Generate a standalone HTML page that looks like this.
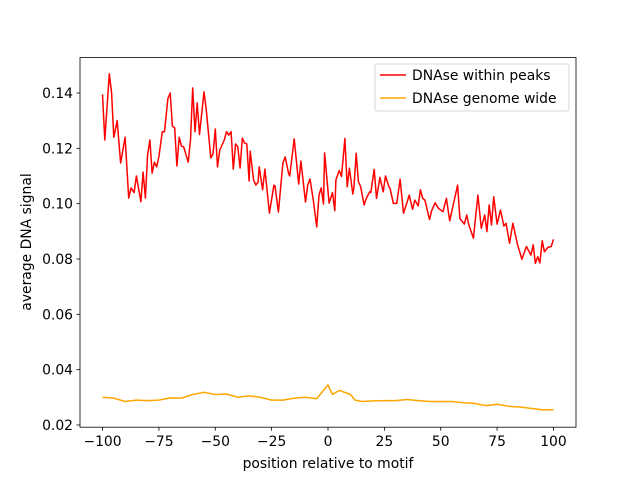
<!DOCTYPE html>
<html><head><meta charset="utf-8"><style>
body{margin:0;background:#fff;}
svg{display:block;font-family:"DejaVu Sans","Liberation Sans",sans-serif;}
</style></head><body>
<svg id="chart" width="640" height="480" viewBox="0 0 640 480">
<rect width="640" height="480" fill="#fff"/>
<g id="plot"></g>
<rect x="80" y="57.6" width="496" height="369.6" fill="none" stroke="#000" stroke-width="0.8"/>
<g id="xticks"></g><g id="yticks"></g>
<text x="328" y="468" font-size="13.9" text-anchor="middle">position relative to motif</text>
<text transform="translate(31,242) rotate(-90)" font-size="13.9" text-anchor="middle">average DNA signal</text>
<g>
<rect x="375" y="64" width="194" height="47" rx="2" fill="#fff" fill-opacity="0.8" stroke="#ccc" stroke-width="0.8"/>
<g>
<line x1="380" y1="75" x2="406" y2="75" stroke="red" stroke-width="1.5"/>
<text x="412" y="80" font-size="13.9">DNAse within peaks</text></g>
<g>
<line x1="380" y1="98" x2="406" y2="98" stroke="orange" stroke-width="1.5"/>
<text x="412" y="103" font-size="13.9">DNAse genome wide</text></g>
</g>
</svg>
<script>
const peaksX=[-100,-99,-97,-96,-95,-93.5,-92,-90,-88.4,-87.4,-86,-85,-83,-82,-81,-80,-79,-78,-77,-76,-75,-73.5,-72.5,-71,-70,-69,-68,-67,-66,-65,-64,-62,-61,-60,-59,-58,-57,-55,-54,-52,-51,-50,-49,-48,-46,-45,-44,-43,-42,-41,-40,-39,-38,-37,-36,-35,-34.5,-33,-32,-31,-30.5,-29,-28,-26,-24,-23.5,-22,-20,-19,-17.5,-17,-15,-13,-12,-10,-9,-8,-6.5,-5,-4,-3,-2,-1.5,0.5,2,3,3.5,5,6,7.5,8.5,9.5,11,11.5,12.5,13.5,14.5,16,17,18.5,19,20.5,21.5,23,24.5,25.5,27,27.5,29,30.5,32,33.5,35,36,37.5,38.5,40,41,42,43,45,46,47.5,49,51,52.5,54,57.5,58.5,60.5,61.5,62.5,64.5,66.5,68,69.5,70.5,71.5,72.5,73.5,75,76.5,78,79,80.5,82,84,86,88,90,91,92,93,94,95,96,97.5,99,100];
const peaksY=[0.1395,0.123,0.1469,0.140,0.124,0.130,0.1147,0.124,0.102,0.1057,0.104,0.110,0.1007,0.1114,0.102,0.1176,0.123,0.111,0.115,0.1133,0.117,0.126,0.126,0.138,0.140,0.128,0.1274,0.1136,0.124,0.1208,0.1205,0.115,0.123,0.1418,0.126,0.1364,0.125,0.1404,0.1339,0.1165,0.118,0.127,0.1133,0.1194,0.123,0.126,0.1248,0.126,0.1125,0.1216,0.1205,0.1129,0.1237,0.1219,0.1216,0.1082,0.119,0.1085,0.1067,0.1078,0.1133,0.105,0.1125,0.0966,0.1067,0.1064,0.097,0.1147,0.1169,0.111,0.110,0.1234,0.1071,0.1154,0.1006,0.1067,0.1089,0.1013,0.0916,0.1031,0.1057,0.0999,0.1183,0.1002,0.104,0.0975,0.1086,0.112,0.1098,0.1236,0.1061,0.1128,0.1035,0.1056,0.1182,0.108,0.1061,0.0995,0.1019,0.1043,0.104,0.1124,0.1019,0.1095,0.1043,0.110,0.1061,0.1056,0.1001,0.1001,0.1088,0.0965,0.1003,0.1031,0.098,0.1013,0.0992,0.105,0.1019,0.1013,0.0943,0.0975,0.1003,0.0983,0.0971,0.1019,0.0938,0.1067,0.0946,0.0926,0.0959,0.0923,0.0875,0.1031,0.0911,0.0959,0.0899,0.0995,0.0923,0.1025,0.0926,0.0977,0.0919,0.0929,0.0857,0.0929,0.0854,0.0799,0.0845,0.0814,0.0851,0.0784,0.0808,0.0786,0.0866,0.0826,0.0842,0.0845,0.0871];
const wideX=[-100,-95,-90,-85,-80,-75,-70,-65,-60,-55,-50,-45,-40,-35,-30,-25,-20,-15,-10,-5,0,2,5,10,12,15,20,25,30,35,40,45,50,55,60,65,70,75,80,85,90,95,100];
const wideY=[0.030,0.0297,0.0285,0.029,0.0288,0.029,0.0298,0.0297,0.031,0.0318,0.031,0.0312,0.030,0.0305,0.030,0.029,0.029,0.0297,0.030,0.0295,0.0345,0.031,0.0325,0.031,0.029,0.0285,0.0287,0.0288,0.0288,0.0292,0.0288,0.0285,0.0285,0.0285,0.028,0.0278,0.027,0.0275,0.0268,0.0265,0.026,0.0255,0.0255];
const xTicks=[-100,-75,-50,-25,0,25,50,75,100];
const yTicks=[0.02,0.04,0.06,0.08,0.10,0.12,0.14];
const NS='http://www.w3.org/2000/svg';
function sx(v){return 80+(v+110)/220*496;}
function sy(v){return 93+(0.14-v)/0.02*55.33;}
function mk(t,a){const e=document.createElementNS(NS,t);for(const k in a)e.setAttribute(k,a[k]);return e;}
const plot=document.getElementById('plot');
function line(xs,ys,color,name){
  const p=mk('polyline',{points:xs.map((x,i)=>sx(x).toFixed(1)+','+sy(ys[i]).toFixed(1)).join(' '),fill:'none',stroke:color,'stroke-width':1.5,'stroke-linejoin':'round'});
  
  
  plot.appendChild(p);
}
line(peaksX,peaksY,'red','series-within-peaks');
line(wideX,wideY,'orange','series-genome-wide');
const xg=document.getElementById('xticks');
xTicks.forEach(t=>{
  const g=mk('g',{});
  
  
  g.appendChild(mk('line',{x1:sx(t),x2:sx(t),y1:427.2,y2:430.7,stroke:'#000','stroke-width':0.8}));
  const tx=mk('text',{x:sx(t),y:446,'font-size':13.9,'text-anchor':'middle'});
  tx.textContent=t<0?'\u2212'+(-t):String(t);
  g.appendChild(tx);xg.appendChild(g);
});
const yg=document.getElementById('yticks');
yTicks.forEach(t=>{
  const g=mk('g',{});
  
  
  g.appendChild(mk('line',{x1:76.5,x2:80,y1:sy(t),y2:sy(t),stroke:'#000','stroke-width':0.8}));
  const tx=mk('text',{x:73,y:sy(t)+5,'font-size':13.9,'text-anchor':'end'});
  tx.textContent=t.toFixed(2);
  g.appendChild(tx);yg.appendChild(g);
});
</script>
</body></html>
